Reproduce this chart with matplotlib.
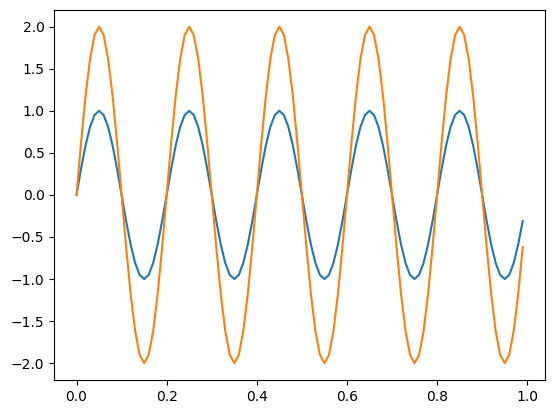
import matplotlib
matplotlib.use("Agg")
import matplotlib.pyplot as plt

# sample times, 0.00 .. 0.99
t = [round(0.01 * k, 2) for k in range(100)]

# one period (20 samples) of each series
period_a = [0.0, 0.309, 0.588, 0.809, 0.951, 1.0, 0.951, 0.809, 0.588, 0.309,
            0.0, -0.309, -0.588, -0.809, -0.951, -1.0, -0.951, -0.809, -0.588, -0.309]
period_b = [0.0, 0.618, 1.176, 1.618, 1.902, 2.0, 1.902, 1.618, 1.176, 0.618,
            0.0, -0.618, -1.176, -1.618, -1.902, -2.0, -1.902, -1.618, -1.176, -0.618]
series_a = period_a * 5
series_b = period_b * 5

fig, ax = plt.subplots(figsize=(5.59, 4.13), dpi=100)
fig.subplots_adjust(left=0.097, right=0.975, top=0.976, bottom=0.08)
ax.plot(t, series_a)
ax.plot(t, series_b)
ax.set_yticks([-2.0, -1.5, -1.0, -0.5, 0.0, 0.5, 1.0, 1.5, 2.0])
fig.savefig("out.png", dpi=100)
